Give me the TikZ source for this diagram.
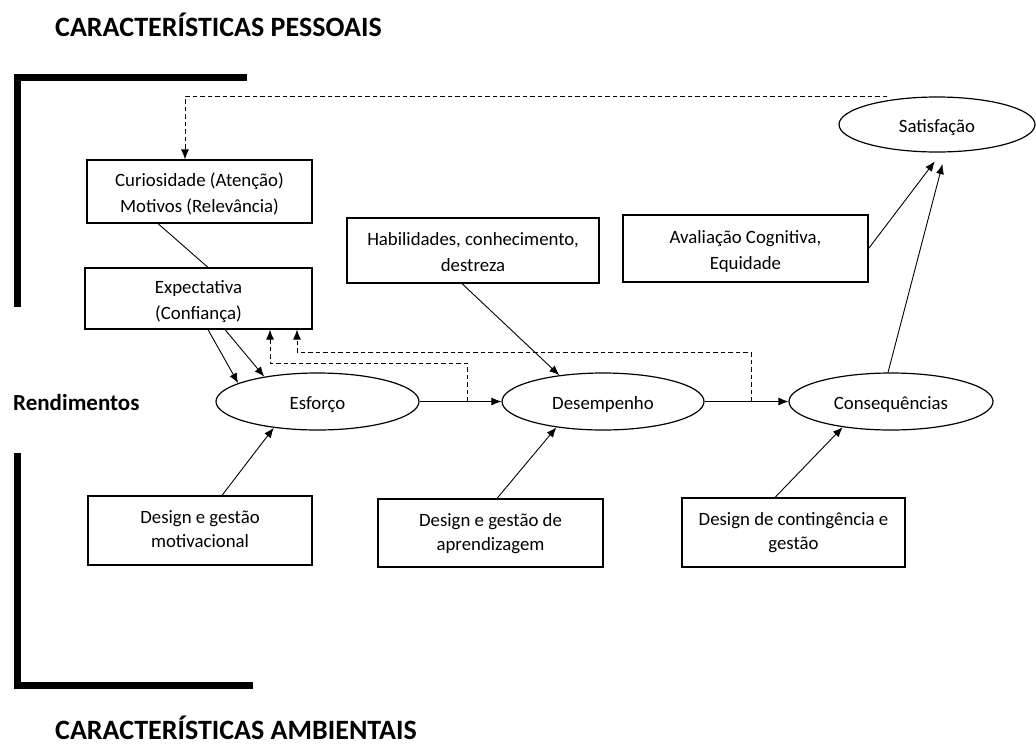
\documentclass[tikz,border=0pt]{standalone}
\usepackage{fontspec}
\setmainfont{Carlito}
\usetikzlibrary{shapes.geometric,arrows.meta,calc}

\begin{document}
\begin{tikzpicture}[x=1pt,y=-1pt,
  box/.style={draw,line width=1.2pt,rectangle,align=center,inner sep=0pt,
    font=\fontsize{18.8}{26.5}\selectfont,text height=48.6pt,text depth=6pt},
  lowbox/.style={box,font=\fontsize{18.8}{24}\selectfont,text height=40.6pt,text depth=6pt},
  oval/.style={draw,line width=1.2pt,ellipse,inner sep=0pt,
    font=\fontsize{18.8}{22}\selectfont,text height=21pt,text depth=5pt},
  link/.style={line width=0.9pt},
  arr/.style={link,-{Latex[length=10pt,width=8pt]}},
  dsh/.style={dash pattern=on 4.5pt off 3pt},
  bracket/.style={line width=7pt,line join=miter},
  head/.style={anchor=west,inner sep=0pt,font=\fontsize{28}{30}\selectfont\bfseries},
  side/.style={anchor=west,inner sep=0pt,font=\fontsize{23}{25}\selectfont\bfseries}
]
\useasboundingbox (0,0) rectangle (1036,747);

% headings
\node[head] (hp) at (55,25) {CARACTERÍSTICAS PESSOAIS};
\node[head] (ha) at (55,728) {CARACTERÍSTICAS AMBIENTAIS};
\node[side] (rd) at (13,403) {Rendimentos};

% corner brackets
\draw[bracket] (247,77) -- (17,77) -- (17,307);
\draw[bracket] (17,453) -- (17,685) -- (253,685);

% boxes
\node[box,minimum width=225pt,minimum height=63pt] (cur) at (199.5,191.5)
  {Curiosidade (Atenção)\\Motivos (Relevância)};
\node[box,minimum width=227pt,minimum height=61pt] (exp) at (198.5,298.5)
  {Expectativa\\(Confiança)};
\node[box,minimum width=252pt,minimum height=65pt] (hab) at (473,250.5)
  {Habilidades, conhecimento,\\destreza};
\node[box,minimum width=245pt,minimum height=67pt] (ava) at (745.5,248.5)
  {Avaliação Cognitiva,\\Equidade};
\node[lowbox,minimum width=224pt,minimum height=69pt] (dm) at (200,530.5)
  {Design e gestão\\motivacional};
\node[lowbox,minimum width=225pt,minimum height=68pt] (da) at (490.5,533)
  {Design e gestão de\\aprendizagem};
\node[lowbox,minimum width=223pt,minimum height=69pt] (dc) at (793.5,532.5)
  {Design de contingência e\\gestão};

% ellipses
\node[oval,minimum width=196pt,minimum height=55pt] (sat) at (937,124.5) {Satisfação};
\node[oval,minimum width=203pt,minimum height=57pt] (esf) at (317.5,401.5) {Esforço};
\node[oval,minimum width=202pt,minimum height=57pt] (des) at (603,401.5) {Desempenho};
\node[oval,minimum width=204pt,minimum height=57pt] (con) at (891,401.5) {Consequências};

% main chain
\draw[arr] (esf.east) -- (des.west);
\draw[arr] (des.east) -- (con.west);

% personal characteristics into effort
\draw[link] ([shift={(-41.5,0)}]cur.south) -- ([shift={(9.5,0)}]exp.north);
\draw[arr] ([shift={(9.5,0)}]exp.south) -- (esf.167);
\draw[arr] ([shift={(26.5,0)}]exp.south) -- (esf.155);

% feedback loops (dashed)
\draw[arr,dsh] ($(esf.east)!0.58!(des.west)$) -- ++(0,-38.5)
  -| ([shift={(71.5,0)}]exp.south);
\draw[arr,dsh] ($(des.east)!0.553!(con.west)$) -- ++(0,-49.5)
  -| ([shift={(98.5,0)}]exp.south);
\draw[arr,dsh] ([shift={(-50,0)}]sat.north) -| ([shift={(-14.5,0)}]cur.north);

% other influences
\draw[arr] ([shift={(-11,0)}]hab.south) -- (des.149);
\draw[arr] ([shift={(22,0)}]dm.north) -- (esf.-149);
\draw[arr] ([shift={(6.5,0)}]da.north) -- (des.-151);
\draw[arr] ([shift={(-18.5,0)}]dc.north) -- (con.-152);
\draw[arr,shorten >=11pt] (ava.east) -- (sat.-81);
\draw[arr,shorten >=12pt] ([shift={(-3,0)}]con.north) -- (sat.-73);
\end{tikzpicture}
\end{document}
